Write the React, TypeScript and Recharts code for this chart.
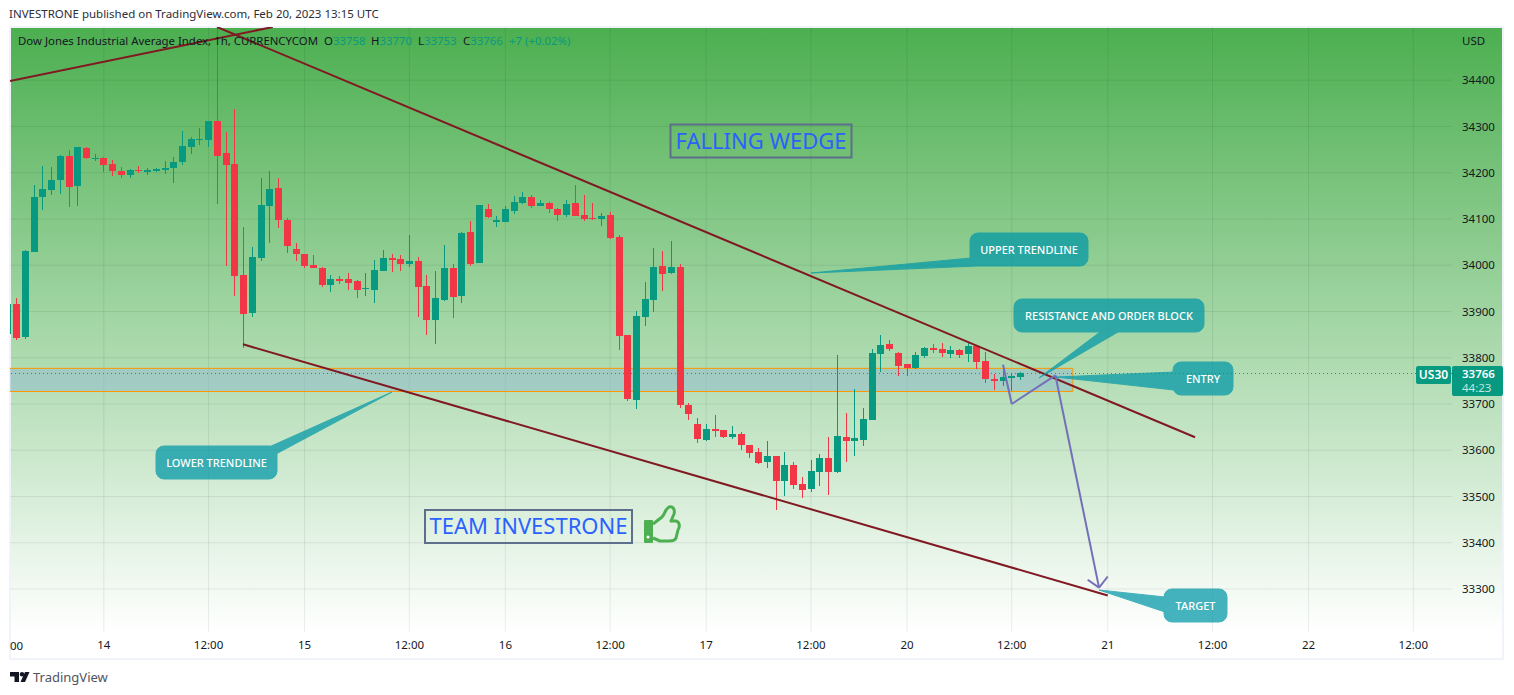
import { ComposedChart, Bar, XAxis, YAxis, CartesianGrid, ReferenceLine, ReferenceArea } from 'recharts'

// candles, one per hour, first one is cut off by the left edge
const firstBar = -1
const opens = [33852,
  33916, 33843, 34029, 34147, 34162, 34184, 34236, 34171, 34253, 34230,
  34231, 34218, 34203, 34195, 34206, 34201, 34203, 34206, 34210, 34223,
  34255, 34269, 34270, 34311, 34242, 34218, 33979, 33896, 34015, 34128,
  34167, 34097, 34035, 34024, 34000, 33994, 33957, 33970, 33970, 33966,
  33947, 33946, 33987, 34015, 34013, 34002, 34009, 33955, 33881, 33925,
  33994, 33933, 34071, 34004, 34121, 34093, 34093, 34117, 34134, 34147,
  34128, 34134, 34121, 34108, 34134, 34108, 34102, 34100, 34108, 34061,
  33849, 33708, 33888, 33925, 33998, 33983, 33996, 33698, 33657, 33622,
  33646, 33644, 33628, 33635, 33611, 33596, 33574, 33587, 33533, 33568,
  33527, 33516, 33553, 33583, 33553, 33628, 33620, 33622, 33665, 33808,
  33829, 33810, 33786, 33778, 33804, 33821, 33819, 33808, 33816, 33808,
  33825, 33793, 33754, 33749, 33756, 33758]
const closes = [33916,
  33843, 34030, 34147, 34164, 34184, 34236, 34169, 34255, 34231, 34231,
  34216, 34203, 34195, 34206, 34203, 34206, 34208, 34210, 34223, 34257,
  34272, 34272, 34311, 34236, 34216, 33976, 33894, 34017, 34130, 34164,
  34097, 34041, 34024, 33998, 33994, 33957, 33970, 33966, 33961, 33946,
  33950, 33989, 34015, 34011, 34002, 34009, 33953, 33881, 33929, 33994,
  33931, 34069, 34002, 34130, 34104, 34097, 34121, 34136, 34147, 34128,
  34134, 34121, 34108, 34132, 34106, 34100, 34100, 34106, 34059, 33847,
  33711, 33890, 33927, 33996, 33981, 33996, 33698, 33678, 33624, 33646,
  33641, 33628, 33635, 33611, 33594, 33572, 33587, 33533, 33568, 33525,
  33514, 33555, 33583, 33553, 33631, 33620, 33626, 33667, 33810, 33827,
  33819, 33782, 33778, 33806, 33821, 33816, 33810, 33816, 33806, 33825,
  33791, 33754, 33749, 33758, 33760, 33766]
const highs = [33916,
  33930, 34032, 34173, 34214, 34212, 34238, 34249, 34255, 34255, 34240,
  34234, 34227, 34212, 34208, 34214, 34210, 34210, 34225, 34234, 34290,
  34277, 34296, 34311, 34515, 34288, 34337, 34082, 34039, 34188, 34203,
  34188, 34102, 34048, 34024, 34022, 33996, 33979, 33976, 33983, 33968,
  33983, 34011, 34033, 34024, 34022, 34065, 34017, 33979, 33987, 34043,
  34002, 34071, 34095, 34130, 34132, 34106, 34128, 34149, 34158, 34151,
  34141, 34136, 34123, 34141, 34173, 34151, 34134, 34113, 34115, 34065,
  33849, 33901, 33963, 34037, 34030, 34052, 34002, 33702, 33669, 33657,
  33676, 33644, 33652, 33639, 33611, 33605, 33620, 33587, 33596, 33574,
  33542, 33579, 33592, 33628, 33806, 33680, 33732, 33691, 33819, 33849,
  33838, 33812, 33786, 33812, 33823, 33829, 33832, 33825, 33819, 33832,
  33827, 33812, 33765, 33782, 33767, 33770]
const lows = [33852,
  33840, 33840, 34029, 34118, 34151, 34154, 34126, 34128, 34228, 34225,
  34201, 34193, 34189, 34189, 34199, 34195, 34201, 34197, 34177, 34216,
  34240, 34260, 34255, 34132, 33998, 33933, 33821, 33888, 34009, 34048,
  34080, 34026, 34009, 33994, 33994, 33953, 33942, 33959, 33946, 33929,
  33933, 33918, 33987, 33985, 33987, 33996, 33888, 33849, 33829, 33922,
  33886, 33918, 33998, 34004, 34102, 34082, 34093, 34110, 34132, 34123,
  34128, 34113, 34095, 34104, 34106, 34095, 34097, 34084, 34056, 33816,
  33706, 33689, 33868, 33899, 33944, 33981, 33691, 33665, 33615, 33620,
  33628, 33626, 33624, 33600, 33583, 33570, 33561, 33471, 33501, 33516,
  33497, 33510, 33523, 33503, 33551, 33574, 33587, 33609, 33665, 33769,
  33814, 33760, 33760, 33775, 33799, 33810, 33801, 33799, 33799, 33791,
  33775, 33745, 33730, 33739, 33728, 33753]

const priceTicks = [33300, 33400, 33500, 33600, 33700, 33800, 33900, 34000, 34100, 34200, 34300, 34400]
const timeTicks = [10, 22, 33, 45, 56, 68, 79, 91, 102, 114, 125, 137, 148, 160]
const timeLabels = ['14', '12:00', '15', '12:00', '16', '12:00', '17', '12:00', '20', '12:00', '21', '12:00', '22', '12:00']

const lastPrice = 33766
const zoneTop = 33777
const zoneBottom = 33727

// drawings, as [bar, price] pairs
const trendOld = [[-0.75, 34398], [29.35, 34515]]
const trendUpper = [[22.97, 34515], [135, 33628]]
const trendLower = [[25.94, 33829], [125, 33286]]
const arrowPath = [[113, 33785], [114, 33700], [119, 33762], [124, 33303]]
const arrowWings = [[[122.7, 33320], [124, 33303]], [[125, 33327], [124, 33303]]]

const RED = '#f23645'
const GREEN = '#089981'
const FONT = '"Noto Sans", sans-serif'

const candles = opens.map((open, i) => ({
  bar: firstBar + i,
  open,
  close: closes[i],
  high: highs[i],
  low: lows[i],
}))

// eslint-disable-next-line @typescript-eslint/no-explicit-any
function Candle(props: any) {
  const { x, y, width, height, payload } = props
  const { open, close, high, low } = payload
  const perPrice = height / (high - low)
  const top = y + (high - Math.max(open, close)) * perPrice
  const bottom = y + (high - Math.min(open, close)) * perPrice
  const mid = Math.floor(x + width / 2)
  const color = close >= open ? GREEN : RED
  return (
    <g>
      <rect x={mid} y={Math.round(y)} width={1} height={Math.max(1, Math.round(height))} fill={color} />
      <rect x={mid - 3} y={Math.round(top)} width={7} height={Math.max(1, Math.round(bottom - top))} fill={color} />
    </g>
  )
}

function segmentOf(points: number[][]) {
  return [{ x: points[0][0], y: points[0][1] }, { x: points[1][0], y: points[1][1] }]
}

function Callout({ box, tail, text, size = 11 }: { box: number[]; tail: number[][]; text: string; size?: number }) {
  const [x, y, w, h] = box
  return (
    <g>
      <g opacity={0.72}>
        <polygon points={tail.map((p) => p.join(',')).join(' ')} fill="#0097a7" stroke="#0097a7" strokeWidth={1} />
        <rect x={x} y={y} width={w} height={h} rx={8} fill="#0097a7" stroke="#0097a7" />
      </g>
      <text x={x + w / 2} y={y + h / 2 + 4} textAnchor="middle" fill="#fff" fontFamily={FONT} fontSize={size} fontWeight={500}>
        {text}
      </text>
    </g>
  )
}

function Overlay() {
  const teal = { fill: GREEN }
  return (
    <svg width={1514} height={695} style={{ position: 'absolute', left: 0, top: 0, pointerEvents: 'none' }}>
      <text x={9} y={18} fontFamily={FONT} fontSize={11.5} fill="#2a2e39">
        INVESTRONE published on TradingView.com, Feb 20, 2023 13:15 UTC
      </text>
      <text x={18} y={45} fontFamily={FONT} fontSize={11.4} fill="#131722">
        Dow Jones Industrial Average Index, 1h, CURRENCYCOM
        <tspan x={324}>O</tspan><tspan {...teal}>33758</tspan>
        <tspan x={371}>H</tspan><tspan {...teal}>33770</tspan>
        <tspan x={418}>L</tspan><tspan {...teal}>33753</tspan>
        <tspan x={463}>C</tspan><tspan {...teal}>33766</tspan>
        <tspan x={509} {...teal}>+7 (+0.02%)</tspan>
      </text>
      <text x={1462} y={45} fontFamily={FONT} fontSize={11.5} fill="#131722">USD</text>
      <text x={10} y={650} fontFamily={FONT} fontSize={11.5} fill="#131722">00</text>

      <rect x={670.5} y={124.5} width={181} height={33} fill="none" stroke="#5d6f8a" strokeWidth={2} />
      <text x={761} y={149} textAnchor="middle" fontFamily={FONT} fontSize={22} fill="#2962ff">FALLING WEDGE</text>
      <rect x={425} y={510} width={207} height={33} fill="none" stroke="#5d6f8a" strokeWidth={2} />
      <text x={528.5} y={534} textAnchor="middle" fontFamily={FONT} fontSize={22} fill="#2962ff">TEAM INVESTRONE</text>

      <g>
        <rect x={644} y={520} width={9} height={23} rx={1} fill="#4caf50" />
        <circle cx={648} cy={537} r={1.5} fill="#fff" />
        <path
          d="M653 524 L662 517 C665 514 665 509 669 507 C674 506 675 511 674 514 L671 521 L676 521 C680 522 680 527 678 530 L676 538 C675 541 672 541 669 541 L660 541 L653 538"
          fill="none"
          stroke="#4caf50"
          strokeWidth={3}
          strokeLinejoin="round"
        />
      </g>

      <Callout box={[970, 233, 118, 33]} tail={[[811, 273], [971, 258], [977, 266]]} text="UPPER TRENDLINE" />
      <Callout box={[1014, 299, 190, 33]} tail={[[1039, 378], [1100, 332], [1118, 332]]} text="RESISTANCE AND ORDER BLOCK" />
      <Callout box={[1173, 362, 60, 33]} tail={[[1056, 377], [1174, 372], [1174, 390]]} text="ENTRY" />
      <Callout box={[156, 446, 121, 33]} tail={[[392, 392], [269, 447], [276, 454]]} text="LOWER TRENDLINE" />
      <Callout box={[1164, 589, 63, 33]} tail={[[1099, 590], [1165, 597], [1165, 612]]} text="TARGET" />

      <rect x={1416} y={366} width={35} height={18} rx={2} fill={GREEN} />
      <text x={1433.5} y={379} textAnchor="middle" fontFamily={FONT} fontSize={12} fontWeight={600} fill="#fff">US30</text>
      <rect x={1452} y={366} width={51} height={30} rx={2} fill={GREEN} />
      <text x={1462} y={378} fontFamily={FONT} fontSize={11.5} fontWeight={600} fill="#fff">33766</text>
      <text x={1462} y={392} fontFamily={FONT} fontSize={11.5} fill="#c3e6df">44:23</text>

      <path d="M10 672 H19 V682 H14.5 V676.5 H10 Z M25 672 H29.5 L25 682 H20.5 Z" fill="#131722" />
      <circle cx={22} cy={674.2} r={2.2} fill="#131722" />
      <text x={33} y={682} fontFamily={FONT} fontSize={13} fill="#50535e">TradingView</text>
    </svg>
  )
}

export default function App() {
  return (
    <div style={{ position: 'absolute', left: 0, top: 0, width: 1514, height: 695, background: '#fff', overflow: 'hidden' }}>
      <div style={{ position: 'absolute', left: 9, top: 26, width: 1491, height: 630, border: '2px solid #f0f3fa', boxSizing: 'content-box' }} />
      <div style={{ position: 'absolute', left: 11, top: 28, width: 1491, height: 604, background: 'linear-gradient(#4caf50, #ffffff)' }} />
      <div style={{ position: 'absolute', left: 0, top: 0 }}>
        <ComposedChart width={1514} height={695} data={candles} margin={{ top: 27, right: 10, bottom: 33, left: 10 }}>
          <CartesianGrid stroke="rgba(19,23,34,0.08)" syncWithTicks />
          <XAxis
            dataKey="bar"
            type="number"
            domain={[-0.745, 164.43]}
            allowDataOverflow
            ticks={timeTicks}
            interval={0}
            height={30}
            tickLine={false}
            axisLine={false}
            tickMargin={3}
            tick={{ fontFamily: FONT, fontSize: 11.5, fill: '#131722' }}
            tickFormatter={(v: number) => timeLabels[timeTicks.indexOf(v)]}
          />
          <YAxis
            orientation="right"
            type="number"
            width={52}
            domain={[33207, 34515]}
            allowDataOverflow
            ticks={priceTicks}
            interval={0}
            tickLine={false}
            axisLine={false}
            tickSize={0}
            tickMargin={10}
            tick={{ fontFamily: FONT, fontSize: 11.5, fill: '#131722' }}
          />
          <ReferenceArea
            x1={-3}
            x2={121}
            y1={zoneBottom}
            y2={zoneTop}
            fill="rgb(143,185,208)"
            fillOpacity={0.5}
            stroke="#ff9800"
            strokeWidth={1}
            ifOverflow="hidden"
          />
          <Bar dataKey={(d: { low: number; high: number }) => [d.low, d.high]} barSize={7} shape={<Candle />} isAnimationActive={false} />
          <ReferenceLine y={lastPrice} stroke={GREEN} strokeDasharray="1 3" />
          {[trendOld, trendUpper, trendLower].map((t, i) => (
            <ReferenceLine key={i} segment={segmentOf(t)} stroke="#801922" strokeWidth={2} ifOverflow="hidden" />
          ))}
          {arrowPath.slice(1).map((p, i) => (
            <ReferenceLine key={i} segment={segmentOf([arrowPath[i], p])} stroke="#7470b8" strokeWidth={2} ifOverflow="hidden" />
          ))}
          {arrowWings.map((w, i) => (
            <ReferenceLine key={i} segment={segmentOf(w)} stroke="#7470b8" strokeWidth={2} ifOverflow="hidden" />
          ))}
        </ComposedChart>
      </div>
      <Overlay />
    </div>
  )
}
